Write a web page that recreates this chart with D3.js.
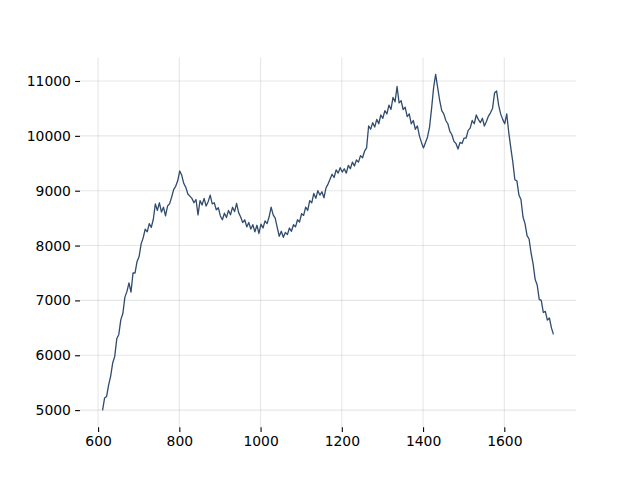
<!DOCTYPE html>
<html>
<head>
<meta charset="utf-8">
<script src="https://cdn.jsdelivr.net/npm/d3@7"></script>
<style>
  html, body { margin: 0; padding: 0; background: #ffffff; }
  svg { display: block; }
  text { font-family: "DejaVu Sans", sans-serif; }
</style>
</head>
<body>
<script>
const wavenumber = [
  611,616,621,626,631,636,641,646,651,656,661,666,671,676,681,686,691,696,701,706,
  711,716,721,726,731,736,741,746,751,756,761,766,771,776,781,786,791,796,801,806,
  811,816,821,826,831,836,841,846,851,856,861,866,871,876,881,886,891,896,901,906,
  911,916,921,926,931,936,941,946,951,956,961,966,971,976,981,986,991,996,1001,1006,
  1011,1016,1021,1026,1031,1036,1041,1046,1051,1056,1061,1066,1071,1076,1081,1086,1091,1096,1101,1106,
  1111,1116,1121,1126,1131,1136,1141,1146,1151,1156,1161,1166,1171,1176,1181,1186,1191,1196,1201,1206,
  1211,1216,1221,1226,1231,1236,1241,1246,1251,1256,1261,1266,1271,1276,1281,1286,1291,1296,1301,1306,
  1311,1316,1321,1326,1331,1336,1341,1346,1351,1356,1361,1366,1371,1376,1381,1386,1391,1396,1401,1406,
  1411,1416,1421,1426,1431,1436,1441,1446,1451,1456,1461,1466,1471,1476,1481,1486,1491,1496,1501,1506,
  1511,1516,1521,1526,1531,1536,1541,1546,1551,1556,1561,1566,1571,1576,1581,1586,1591,1596,1601,1606,
  1611,1616,1621,1626,1631,1636,1641,1646,1651,1656,1661,1666,1671,1676,1681,1686,1691,1696,1701,1706,
  1711,1716,1721
];
const intensity = [
  4995,5220,5250,5460,5620,5860,5980,6300,6380,6650,6760,7060,7160,7320,7150,7500,7500,7710,7800,8030,
  8140,8300,8250,8400,8330,8480,8760,8640,8780,8610,8700,8540,8720,8760,8880,9020,9080,9180,9360,9280,
  9130,9060,8940,8900,8860,8780,8840,8560,8820,8740,8860,8720,8800,8920,8760,8780,8650,8690,8540,8470,
  8590,8510,8640,8560,8700,8620,8770,8600,8520,8420,8470,8340,8420,8300,8380,8250,8370,8220,8390,8320,
  8450,8400,8520,8700,8560,8500,8330,8170,8260,8150,8240,8200,8320,8260,8380,8340,8470,8430,8580,8550,
  8700,8640,8820,8780,8950,8860,9000,8920,8980,8870,9050,9120,9210,9300,9240,9380,9320,9420,9340,9400,
  9320,9460,9400,9520,9450,9560,9520,9640,9600,9720,9780,10180,10120,10240,10160,10300,10220,10380,10320,10460,
  10400,10560,10480,10700,10620,10900,10600,10640,10480,10520,10350,10400,10220,10280,10120,10180,10000,9880,9780,9880,
  9980,10160,10500,10880,11120,10880,10640,10460,10400,10280,10220,10080,10020,9900,9860,9760,9880,9860,9960,9960,
  10100,10140,10280,10220,10380,10300,10240,10320,10180,10260,10360,10420,10500,10780,10820,10560,10400,10300,10220,10400,
  10060,9780,9520,9200,9180,8920,8840,8520,8400,8180,8120,7860,7660,7380,7280,7020,7000,6780,6800,6640,
  6680,6500,6380
];
const xTicks = [600, 800, 1000, 1200, 1400, 1600];
const yTicks = [5000, 6000, 7000, 8000, 9000, 10000, 11000];

const W = 640, H = 480;
const plotLeft = 80, plotRight = 576, plotTop = 57.6, plotBottom = 427.2;

const svg = d3.select("body").append("svg")
  .attr("width", W).attr("height", H)
  .style("background", "#ffffff");

const data = wavenumber.map((x, i) => ({ x, y: intensity[i] }));

const xe = d3.extent(wavenumber), ye = d3.extent(intensity);
const xp = (xe[1] - xe[0]) * 0.05, yp = (ye[1] - ye[0]) * 0.05;
const xScale = d3.scaleLinear().domain([xe[0] - xp, xe[1] + xp]).range([plotLeft, plotRight]);
const yScale = d3.scaleLinear().domain([ye[0] - yp, ye[1] + yp]).range([plotBottom, plotTop]);

// grid
const grid = svg.append("g");
grid.selectAll("line.gx").data(xTicks).enter().append("line")
  .attr("x1", d => xScale(d)).attr("x2", d => xScale(d))
  .attr("y1", plotTop).attr("y2", plotBottom)
  .attr("stroke", "#b0b0b0").attr("stroke-opacity", 0.3).attr("stroke-width", 1.1);
grid.selectAll("line.gy").data(yTicks).enter().append("line")
  .attr("y1", d => yScale(d)).attr("y2", d => yScale(d))
  .attr("x1", plotLeft).attr("x2", plotRight)
  .attr("stroke", "#b0b0b0").attr("stroke-opacity", 0.3).attr("stroke-width", 1.1);

// axes
const xAxis = d3.axisBottom(xScale).tickValues(xTicks).tickFormat(d3.format("d"))
  .tickSize(4.9).tickPadding(4.2);
const yAxis = d3.axisLeft(yScale).tickValues(yTicks).tickFormat(d3.format("d"))
  .tickSize(4.9).tickPadding(4.2);

const gx = svg.append("g").attr("transform", `translate(0,${plotBottom})`).call(xAxis);
const gy = svg.append("g").attr("transform", `translate(${plotLeft},0)`).call(yAxis);
[gx, gy].forEach(g => {
  g.select(".domain").remove();
  g.selectAll(".tick line").attr("stroke", "#000").attr("stroke-width", 1.1);
  g.selectAll(".tick text").attr("fill", "#000")
    .style("font-family", "'DejaVu Sans', sans-serif").style("font-size", "13.9px");
});

// line
const line = d3.line().x(d => xScale(d.x)).y(d => yScale(d.y));
svg.append("path").datum(data)
  .attr("d", line)
  .attr("fill", "none")
  .attr("stroke", "#2f4b6e")
  .attr("stroke-width", 1.3)
  .attr("stroke-linejoin", "round");
</script>
</body>
</html>
